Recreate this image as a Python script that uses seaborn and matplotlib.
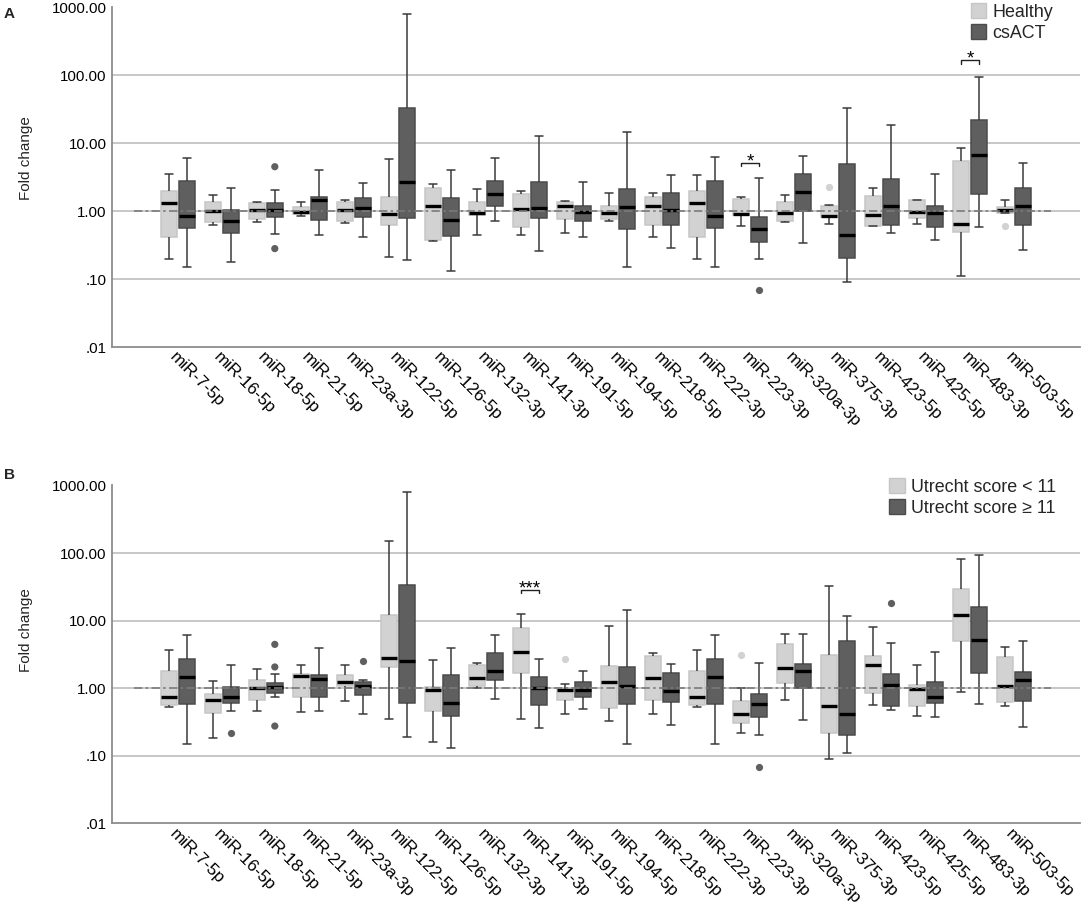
import numpy as np
import pandas as pd
import matplotlib
matplotlib.use("Agg")
import matplotlib.pyplot as plt
import seaborn as sns
from matplotlib.patches import Patch
from matplotlib.ticker import NullLocator, FixedLocator
import matplotlib.colors as mcolors

# ---------------- data ----------------
MIRNAS = ["miR-7-5p", "miR-16-5p", "miR-18-5p", "miR-21-5p", "miR-23a-3p",
          "miR-122-5p", "miR-126-5p", "miR-132-3p", "miR-141-3p", "miR-191-5p",
          "miR-194-5p", "miR-218-5p", "miR-222-3p", "miR-223-3p", "miR-320a-3p",
          "miR-375-3p", "miR-423-5p", "miR-425-5p", "miR-483-3p", "miR-503-5p"]

GROUPS_A = ["Healthy", "csACT"]
GROUPS_B = ["Utrecht score < 11", "Utrecht score \u2265 11"]

# Panel A - Healthy (whisker low, Q1, median, Q3, whisker high)
A_H_low = [0.20, 0.63, 0.70, 0.84, 0.67, 0.21, 0.366, 0.44, 0.45, 0.48, 0.71, 0.41, 0.20, 0.61, 0.70, 0.64, 0.60, 0.64, 0.11, 0.93]
A_H_q1 = [0.42, 0.69, 0.76, 0.91, 0.705, 0.62, 0.38, 0.88, 0.575, 0.76, 0.76, 0.62, 0.42, 0.86, 0.72, 0.83, 0.61, 0.78, 0.486, 0.94]
A_H_med = [1.32, 1.00, 1.04, 0.96, 1.04, 0.90, 1.17, 0.92, 1.07, 1.20, 0.92, 1.18, 1.32, 0.89, 0.92, 0.84, 0.88, 0.98, 0.64, 1.03]
A_H_q3 = [1.99, 1.34, 1.30, 1.13, 1.37, 1.60, 2.15, 1.36, 1.78, 1.37, 1.20, 1.60, 1.99, 1.49, 1.36, 1.20, 1.64, 1.44, 5.5, 1.16]
A_H_high = [3.46, 1.72, 1.36, 1.37, 1.45, 5.76, 2.47, 2.10, 1.97, 1.42, 1.86, 1.86, 3.42, 1.60, 1.70, 1.24, 2.2, 1.47, 8.5, 1.45]

# Panel A - csACT
A_C_low = [0.15, 0.178, 0.46, 0.44, 0.41, 0.19, 0.13, 0.705, 0.26, 0.42, 0.15, 0.29, 0.15, 0.20, 0.34, 0.09, 0.48, 0.38, 0.59, 0.27]
A_C_q1 = [0.56, 0.47, 0.81, 0.745, 0.81, 0.78, 0.43, 1.18, 0.79, 0.72, 0.54, 0.62, 0.56, 0.354, 1.0, 0.204, 0.62, 0.575, 1.76, 0.62]
A_C_med = [0.84, 0.71, 1.04, 1.44, 1.12, 2.67, 0.74, 1.8, 1.12, 0.96, 1.16, 1.04, 0.84, 0.54, 1.92, 0.44, 1.2, 0.92, 6.66, 1.18]
A_C_q3 = [2.73, 1.05, 1.32, 1.62, 1.54, 33.0, 1.55, 2.76, 2.67, 1.2, 2.1, 1.82, 2.73, 0.825, 3.54, 4.96, 2.95, 1.17, 22.0, 2.2]
A_C_high = [6.08, 2.2, 2.04, 3.97, 2.58, 789.0, 4.05, 6.08, 12.5, 2.7, 14.4, 3.42, 6.16, 3.06, 6.5, 32.7, 18.2, 3.54, 93.5, 5.03]

A_H_out_mirna = ["miR-375-3p", "miR-503-5p"]
A_H_out_value = [2.25, 0.61]
A_C_out_mirna = ["miR-18-5p", "miR-18-5p", "miR-223-3p"]
A_C_out_value = [4.48, 0.28, 0.07]

# Panel B - Utrecht score < 11
B_L_low = [0.52, 0.18, 0.46, 0.44, 0.65, 0.35, 0.158, 1.0, 0.35, 0.42, 0.33, 0.41, 0.52, 0.22, 0.67, 0.089, 0.555, 0.39, 0.87, 0.54]
B_L_q1 = [0.56, 0.43, 0.67, 0.75, 1.07, 2.04, 0.46, 1.09, 1.66, 0.67, 0.51, 0.66, 0.56, 0.31, 1.2, 0.22, 0.86, 0.55, 5.05, 0.63]
B_L_med = [0.745, 0.67, 1.02, 1.49, 1.25, 2.8, 0.94, 1.4, 3.4, 0.93, 1.23, 1.42, 0.745, 0.41, 2.02, 0.54, 2.21, 0.97, 12.0, 1.09]
B_L_q3 = [1.78, 0.82, 1.34, 1.63, 1.59, 12.2, 1.03, 2.23, 7.75, 0.985, 2.13, 2.96, 1.78, 0.64, 4.5, 3.14, 3.0, 1.12, 29.5, 2.93]
B_L_high = [3.72, 1.28, 1.95, 2.21, 2.18, 152.0, 2.59, 2.34, 12.6, 1.16, 8.2, 3.32, 3.72, 1.02, 6.4, 33.0, 8.1, 2.21, 82.0, 4.1]

# Panel B - Utrecht score >= 11
B_G_low = [0.15, 0.46, 0.73, 0.46, 0.41, 0.19, 0.13, 0.70, 0.26, 0.49, 0.15, 0.29, 0.15, 0.20, 0.34, 0.109, 0.48, 0.37, 0.59, 0.27]
B_G_q1 = [0.59, 0.61, 0.86, 0.745, 0.80, 0.61, 0.39, 1.33, 0.56, 0.75, 0.59, 0.62, 0.59, 0.37, 1.0, 0.20, 0.54, 0.61, 1.7, 0.64]
B_G_med = [1.47, 0.73, 1.03, 1.39, 1.07, 2.5, 0.60, 1.82, 1.0, 0.93, 1.09, 0.91, 1.47, 0.59, 1.8, 0.42, 1.13, 0.73, 5.16, 1.3]
B_G_q3 = [2.7, 1.03, 1.2, 1.55, 1.25, 33.4, 1.55, 3.36, 1.45, 1.23, 2.08, 1.7, 2.7, 0.82, 2.31, 4.93, 1.61, 1.24, 15.8, 1.72]
B_G_high = [6.1, 2.21, 1.64, 3.98, 1.3, 802.0, 4.0, 6.04, 2.68, 1.8, 14.3, 2.31, 6.04, 2.36, 6.25, 11.8, 4.6, 3.47, 93.5, 5.05]

B_L_out_mirna = ["miR-191-5p", "miR-223-3p"]
B_L_out_value = [2.68, 3.1]
B_G_out_mirna = ["miR-16-5p", "miR-18-5p", "miR-18-5p", "miR-18-5p", "miR-23a-3p", "miR-223-3p", "miR-423-5p"]
B_G_out_value = [0.22, 4.45, 2.06, 0.275, 2.56, 0.069, 18.1]

# significance annotations: (miRNA, bracket level, label)
SIG_A = [("miR-223-3p", 5.1, "*"), ("miR-483-3p", 164.0, "*")]
SIG_B = [("miR-141-3p", 28.8, "***")]

Y_TICKS = [0.01, 0.1, 1, 10, 100, 1000]
Y_TICKLABELS = [".01", ".10", "1.00", "10.00", "100.00", "1000.00"]
GRID_LEVELS = [0.1, 1, 10, 100]
REF_LEVEL = 1.0

# ---------------- style ----------------
LIGHT = "#d2d2d2"
DARK = "#5f5f5f"
LIGHT_EDGE = "#c6c6c6"
DARK_EDGE = "#4c4c4c"
WHISK_C = "#3a3a3a"
GRID_C = "#bdbdbd"
SPINE_C = "#8c8c8c"
REF_C = "#7a7a7a"

sns.set_style("white")
plt.rcParams["font.family"] = ["Liberation Sans", "DejaVu Sans"]


def long_frame(stats, groups):
    rows = []
    for g, (lo, q1, md, q3, hi) in zip(groups, stats):
        for m, a, b, c, d, e in zip(MIRNAS, lo, q1, md, q3, hi):
            for v in (a, b, c, d, e):
                rows.append((m, g, v))
    return pd.DataFrame(rows, columns=["miRNA", "group", "value"])


def out_frame(groups, outs):
    rows = []
    for g, (ms, vs) in zip(groups, outs):
        for m, v in zip(ms, vs):
            rows.append((m, g, v))
    return pd.DataFrame(rows, columns=["miRNA", "group", "value"])


df_A = long_frame([(A_H_low, A_H_q1, A_H_med, A_H_q3, A_H_high),
                   (A_C_low, A_C_q1, A_C_med, A_C_q3, A_C_high)], GROUPS_A)
df_B = long_frame([(B_L_low, B_L_q1, B_L_med, B_L_q3, B_L_high),
                   (B_G_low, B_G_q1, B_G_med, B_G_q3, B_G_high)], GROUPS_B)
out_A = out_frame(GROUPS_A, [(A_H_out_mirna, A_H_out_value), (A_C_out_mirna, A_C_out_value)])
out_B = out_frame(GROUPS_B, [(B_L_out_mirna, B_L_out_value), (B_G_out_mirna, B_G_out_value)])

W, H = 1084, 905
fig = plt.figure(figsize=(W / 100, H / 100), dpi=100)
ax_A = fig.add_axes([112 / W, 1 - 347 / H, 968 / W, 340 / H])
ax_B = fig.add_axes([112 / W, 1 - 823.3 / H, 968 / W, 337.8 / H])

BOX_W = 0.84


def draw_panel(ax, df, odf, groups, sig, label_y):
    for lvl in GRID_LEVELS:
        ax.axhline(lvl, color=GRID_C, lw=1.2, zorder=0)
    sns.boxplot(data=df, x="miRNA", y="value", hue="group", order=MIRNAS,
                hue_order=groups, palette=[LIGHT, DARK], whis=(0, 100),
                width=BOX_W, gap=0.13, log_scale=True, linecolor=WHISK_C,
                linewidth=1.1, showfliers=False, legend=False, ax=ax,
                medianprops=dict(color="black", linewidth=2.4))
    for p in ax.patches:
        fc = mcolors.to_rgb(p.get_facecolor())
        p.set_edgecolor(LIGHT_EDGE if np.mean(fc) > 0.6 else DARK_EDGE)
    sns.stripplot(data=odf, x="miRNA", y="value", hue="group", order=MIRNAS,
                  hue_order=groups, palette=[LIGHT, DARK], dodge=True,
                  jitter=False, size=5.2, linewidth=0, legend=False, ax=ax,
                  log_scale=True, zorder=4)
    ax.hlines(REF_LEVEL, -1.0, 19.85, colors=REF_C, lw=1.2,
              linestyles=(0, (5, 2, 1.5, 2)), zorder=6)
    # significance brackets
    off = BOX_W / 4
    for m, y, txt in sig:
        i = MIRNAS.index(m)
        yl = y / 10 ** (3.5 / 68)
        ax.plot([i - off, i - off, i + off, i + off], [yl, y, y, yl],
                color="#222222", lw=1.0, zorder=6)
        ax.annotate(txt, xy=(i, y), xytext=(0, -2.5), textcoords="offset points",
                    ha="center", va="baseline", fontsize=13.5, color="black")
    ax.set_xlim(-1.5, 20.5)
    ax.set_ylim(0.01, 1000)
    ax.yaxis.set_major_locator(FixedLocator(Y_TICKS))
    ax.yaxis.set_minor_locator(NullLocator())
    ax.set_yticklabels(Y_TICKLABELS, fontsize=10.8)
    ax.set_xticks(range(len(MIRNAS)))
    ax.set_xticklabels(MIRNAS, rotation=-45, ha="left", va="top",
                       rotation_mode="anchor", fontsize=12.3)
    ax.tick_params(axis="both", length=0, colors="black")
    ax.tick_params(axis="x", pad=2)
    ax.tick_params(axis="y", pad=4)
    ax.set_xlabel("")
    ax.set_ylabel("Fold change", fontsize=11)
    ax.yaxis.set_label_coords(-0.0816, label_y)
    for s in ["top", "right"]:
        ax.spines[s].set_visible(False)
    for s in ["left", "bottom"]:
        ax.spines[s].set_color(SPINE_C)
        ax.spines[s].set_linewidth(1.3)


draw_panel(ax_A, df_A, out_A, GROUPS_A, SIG_A, 0.555)
draw_panel(ax_B, df_B, out_B, GROUPS_B, SIG_B, 0.571)


def add_legend(labels, x_px, y_px):
    handles = [Patch(facecolor=LIGHT, edgecolor=LIGHT_EDGE),
               Patch(facecolor=DARK, edgecolor=DARK_EDGE)]
    fig.legend(handles=handles, labels=labels, loc="upper left",
               bbox_to_anchor=(x_px / W, 1 - y_px / H), frameon=False,
               fontsize=12.9, handlelength=0.85, handleheight=0.85,
               handletextpad=0.34, labelspacing=0.2, borderpad=0,
               borderaxespad=0)


add_legend(GROUPS_A, 970.7, 3.5)
add_legend(GROUPS_B, 889.3, 478.5)

fig.text(4 / W, 1 - 18.3 / H, "A", fontsize=11, fontweight="bold", va="baseline")
fig.text(4 / W, 1 - 479 / H, "B", fontsize=11, fontweight="bold", va="baseline")

fig.savefig("out.png", dpi=100)
